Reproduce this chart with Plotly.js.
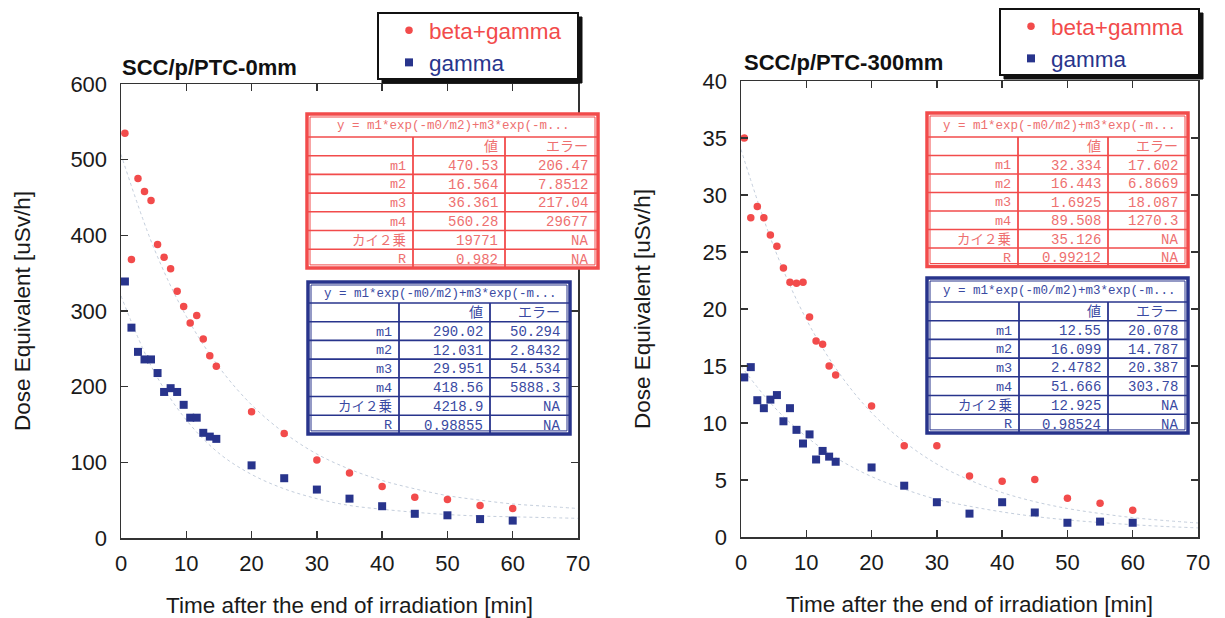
<!DOCTYPE html>
<html><head><meta charset="utf-8">
<script src="https://cdn.plot.ly/plotly-3.0.1.min.js"></script>
<style>html,body{margin:0;padding:0;background:#fff}#chart{width:1225px;height:618px}</style>
</head><body><div id="chart"></div>
<script>
// ---------- DATA ----------
const timesLeft  = [0.6,1.6,2.6,3.6,4.6,5.6,6.6,7.6,8.6,9.6,10.6,11.6,12.6,13.6,14.6,20,25,30,35,40,45,50,55,60];
const timesRight = [0.5,1.5,2.5,3.5,4.5,5.5,6.5,7.5,8.5,9.5,10.5,11.5,12.5,13.5,14.5,20,25,30,35,40,45,50,55,60];

const left_betaGamma  = [535,368,475,458,446,388,371,356,326,306,284,294,263,241,227,167,138,103,86,68,54,51,43,39];
const left_gamma      = [339,278,246,236,236,218,193,198,193,176,159,159,139,134,131,96,79,64,52,42,32,30,25,23];
const right_betaGamma = [35.0,28.0,29.0,28.0,26.5,25.5,23.6,22.35,22.25,22.35,19.3,17.2,16.9,15.0,14.2,11.5,8.0,8.0,5.35,4.9,5.05,3.4,2.95,2.35];
const right_gamma     = [14.0,14.9,12.0,11.3,12.05,12.45,10.15,11.3,9.4,8.2,9.0,6.8,7.55,7.05,6.6,6.1,4.5,3.05,2.05,3.05,2.15,1.25,1.35,1.25];

// faint fitted curves
const fitTimes        = [0,5,10,15,20,25,30,35,40,45,50,55,60,65,70];
const left_fitBG      = [507,384,293,226,176,139,111,91,76,65,56,50,45,42,39];
const left_fitG       = [320,221,156,112,84,65,52,43,38,34,31,29,28,27,26];
const right_fitBG     = [34.0,25.5,19.1,14.4,10.9,8.35,6.4,5.0,3.9,3.1,2.5,2.06,1.7,1.44,1.23];
const right_fitG      = [15.0,11.45,8.8,6.8,5.3,4.2,3.3,2.7,2.2,1.8,1.5,1.27,1.08,0.92,0.8];

const seriesNames = ['beta+gamma','gamma'];
const panelTitles = ['SCC/p/PTC-0mm','SCC/p/PTC-300mm'];
const xTitle = 'Time after the end of irradiation [min]';
const yTitle = 'Dose Equivalent [uSv/h]';

// fit tables
const tableFormula   = 'y = m1*exp(-m0/m2)+m3*exp(-m...';
const tableHeader    = ['値','エラー'];
const tableRowLabels = ['m1','m2','m3','m4','カイ２乗','R'];
const leftBG_values  = ['470.53','16.564','36.361','560.28','19771','0.982'];
const leftBG_errors  = ['206.47','7.8512','217.04','29677','NA','NA'];
const leftG_values   = ['290.02','12.031','29.951','418.56','4218.9','0.98855'];
const leftG_errors   = ['50.294','2.8432','54.534','5888.3','NA','NA'];
const rightBG_values = ['32.334','16.443','1.6925','89.508','35.126','0.99212'];
const rightBG_errors = ['17.602','6.8669','18.087','1270.3','NA','NA'];
const rightG_values  = ['12.55','16.099','2.4782','51.666','12.925','0.98524'];
const rightG_errors  = ['20.078','14.787','20.387','303.78','NA','NA'];

// ---------- STYLE / LAYOUT ----------
const W = 1225, H = 618;
const px = v => v / W;
const py = v => 1 - v / H;
const RED = '#f24b4b', BLUE = '#28348c';
const RED_T = '#ee7070', BLUE_T = '#3a4aa2';
const FIT = '#c4cedc';
const SANS = 'Liberation Sans, Arial, sans-serif';
const MONO = 'Liberation Mono, Noto Sans CJK JP, monospace';

const traces = [];
function addPanel(xa, ya, legendId, times, bg, g, fbg, fg) {
  traces.push({x: fitTimes, y: fbg, xaxis: xa, yaxis: ya, mode: 'lines', line: {color: FIT, width: 1, dash: 'dot', shape: 'spline'}, showlegend: false, hoverinfo: 'skip'});
  traces.push({x: fitTimes, y: fg, xaxis: xa, yaxis: ya, mode: 'lines', line: {color: FIT, width: 1, dash: 'dot', shape: 'spline'}, showlegend: false, hoverinfo: 'skip'});
  traces.push({x: times, y: bg, xaxis: xa, yaxis: ya, mode: 'markers', legend: legendId,
    name: '<span style="color:' + RED + '">' + seriesNames[0] + '</span>',
    marker: {symbol: 'circle', size: 7.5, color: RED}});
  traces.push({x: times, y: g, xaxis: xa, yaxis: ya, mode: 'markers', legend: legendId,
    name: '<span style="color:' + BLUE + '">' + seriesNames[1] + '</span>',
    marker: {symbol: 'square', size: 8, color: BLUE}});
}
addPanel('x', 'y', 'legend', timesLeft, left_betaGamma, left_gamma, left_fitBG, left_fitG);
addPanel('x2', 'y2', 'legend2', timesRight, right_betaGamma, right_gamma, right_fitBG, right_fitG);

const shapes = [];
const annotations = [];

function rect(x0, y0, x1, y1, line, fill) {
  shapes.push({type: 'rect', xref: 'paper', yref: 'paper', x0: px(x0), x1: px(x1), y0: py(y0), y1: py(y1),
    line: line, fillcolor: fill || 'rgba(0,0,0,0)', layer: 'above'});
}
function seg(x0, y0, x1, y1, color, width) {
  shapes.push({type: 'line', xref: 'paper', yref: 'paper', x0: px(x0), x1: px(x1), y0: py(y0), y1: py(y1),
    line: {color: color, width: width}, layer: 'above'});
}
function txt(text, x, y, anchor, color, size, family) {
  annotations.push({text: text, xref: 'paper', yref: 'paper', x: px(x), y: py(y), xanchor: anchor, yanchor: 'middle',
    showarrow: false, font: {family: family || MONO, size: size || 13, color: color}});
}

function addTable(s, values, errors) {
  const nRows = 1 + tableRowLabels.length;
  const bottom = s.top + s.headH + nRows * s.rowH;
  rect(s.x0, s.top, s.x1, bottom, {color: s.border, width: 3.5}, '#ffffff');
  rect(s.x0 + 3, s.top + 3, s.x1 - 3, bottom - 3, {color: s.border, width: 1}, null);
  for (let i = 0; i < nRows; i++) {
    const y = s.top + s.headH + i * s.rowH;
    seg(s.x0, y, s.x1, y, s.border, 1.6);
  }
  seg(s.c1, s.top + s.headH, s.c1, bottom, s.border, 1.8);
  seg(s.c2, s.top + s.headH, s.c2, bottom, s.border, 1.8);
  txt(tableFormula, s.x0 + s.fpad, s.top + s.headH / 2 + 1, 'left', s.text, 12.5);
  const yc = i => s.top + s.headH + (i + 0.5) * s.rowH + 1;
  txt(tableHeader[0], s.c2 - 5, yc(0), 'right', s.text, 14);
  txt(tableHeader[1], s.x1 - 8, yc(0), 'right', s.text, 14);
  tableRowLabels.forEach((lab, i) => {
    txt(lab, s.c1 - 5, yc(i + 1), 'right', s.text, 13.5);
    txt(values[i], s.c2 - 5, yc(i + 1), 'right', s.text, 14);
    txt(errors[i], s.x1 - 8, yc(i + 1), 'right', s.text, 14);
  });
}

addTable({x0: 307, x1: 598, top: 114, headH: 23, rowH: 18.7, c1: 413, c2: 505, border: RED, text: RED_T, fpad: 28}, leftBG_values, leftBG_errors);
addTable({x0: 308, x1: 570, top: 282, headH: 21, rowH: 18.7, c1: 399, c2: 490, border: BLUE, text: BLUE_T, fpad: 14}, leftG_values, leftG_errors);
addTable({x0: 927, x1: 1188, top: 113, headH: 24, rowH: 18.5, c1: 1018, c2: 1108, border: RED, text: RED_T, fpad: 14}, rightBG_values, rightBG_errors);
addTable({x0: 927, x1: 1188, top: 278, headH: 24, rowH: 18.7, c1: 1019, c2: 1108, border: BLUE, text: BLUE_T, fpad: 14}, rightG_values, rightG_errors);

// legend frames with drop shadow
function legendFrame(x0, y0, x1, y1) {
  rect(x0 + 4, y0 + 4, x1 + 4, y1 + 4, {color: '#111', width: 1}, '#111111');
  rect(x0, y0, x1, y1, {color: '#111', width: 2}, '#ffffff');
}
legendFrame(378, 13, 578, 79);
legendFrame(1000, 9, 1199, 75);

// panel titles
annotations.push({text: '<b>' + panelTitles[0] + '</b>', xref: 'paper', yref: 'paper', x: px(120), y: py(67),
  xanchor: 'left', yanchor: 'middle', showarrow: false, font: {family: SANS, size: 22, color: '#111'}});
annotations.push({text: '<b>' + panelTitles[1] + '</b>', xref: 'paper', yref: 'paper', x: px(742), y: py(63),
  xanchor: 'left', yanchor: 'middle', showarrow: false, font: {family: SANS, size: 22, color: '#111'}});

function xAxis(domain, anchor) {
  return {domain: domain, anchor: anchor, range: [0, 70], dtick: 10, tick0: 0,
    showline: true, linecolor: '#333', linewidth: 1.5, mirror: 'ticks',
    ticks: 'inside', ticklen: 7, tickwidth: 1.5, tickcolor: '#333',
    showgrid: false, zeroline: false, ticklabelstandoff: 5,
    tickfont: {family: SANS, size: 22, color: '#1a1a1a'},
    title: {text: xTitle, standoff: 22, font: {family: SANS, size: 22.5, color: '#1a1a1a'}},
    fixedrange: true};
}
function yAxis(domain, anchor, range, dtick, standoff) {
  return {domain: domain, anchor: anchor, range: range, dtick: dtick, tick0: 0,
    showline: true, linecolor: '#333', linewidth: 1.5, mirror: 'ticks',
    ticks: 'inside', ticklen: 7, tickwidth: 1.5, tickcolor: '#333',
    showgrid: false, zeroline: false, ticklabelstandoff: 8,
    tickfont: {family: SANS, size: 22, color: '#1a1a1a'},
    title: {text: yTitle, standoff: standoff, font: {family: SANS, size: 22.5, color: '#1a1a1a'}},
    fixedrange: true};
}

const legendCommon = {bgcolor: 'rgba(0,0,0,0)', borderwidth: 0, font: {family: SANS, size: 22.5},
  xanchor: 'left', yanchor: 'top', itemwidth: 30, tracegroupgap: 0};

const layout = {
  width: W, height: H, autosize: false,
  margin: {l: 0, r: 0, t: 0, b: 0, pad: 0},
  paper_bgcolor: '#ffffff', plot_bgcolor: '#ffffff',
  showlegend: true,
  xaxis: xAxis([px(121), px(578)], 'y'),
  yaxis: yAxis([py(538), py(84)], 'x', [0, 600], 100, 33),
  xaxis2: xAxis([px(741), px(1198)], 'y2'),
  yaxis2: yAxis([py(537), py(81)], 'x2', [0, 40], 5, 45),
  legend: Object.assign({x: px(389), y: py(9)}, legendCommon),
  legend2: Object.assign({x: px(1011), y: py(5)}, legendCommon),
  shapes: shapes,
  annotations: annotations
};

Plotly.newPlot('chart', traces, layout, {staticPlot: true, displayModeBar: false});
</script>
</body></html>
